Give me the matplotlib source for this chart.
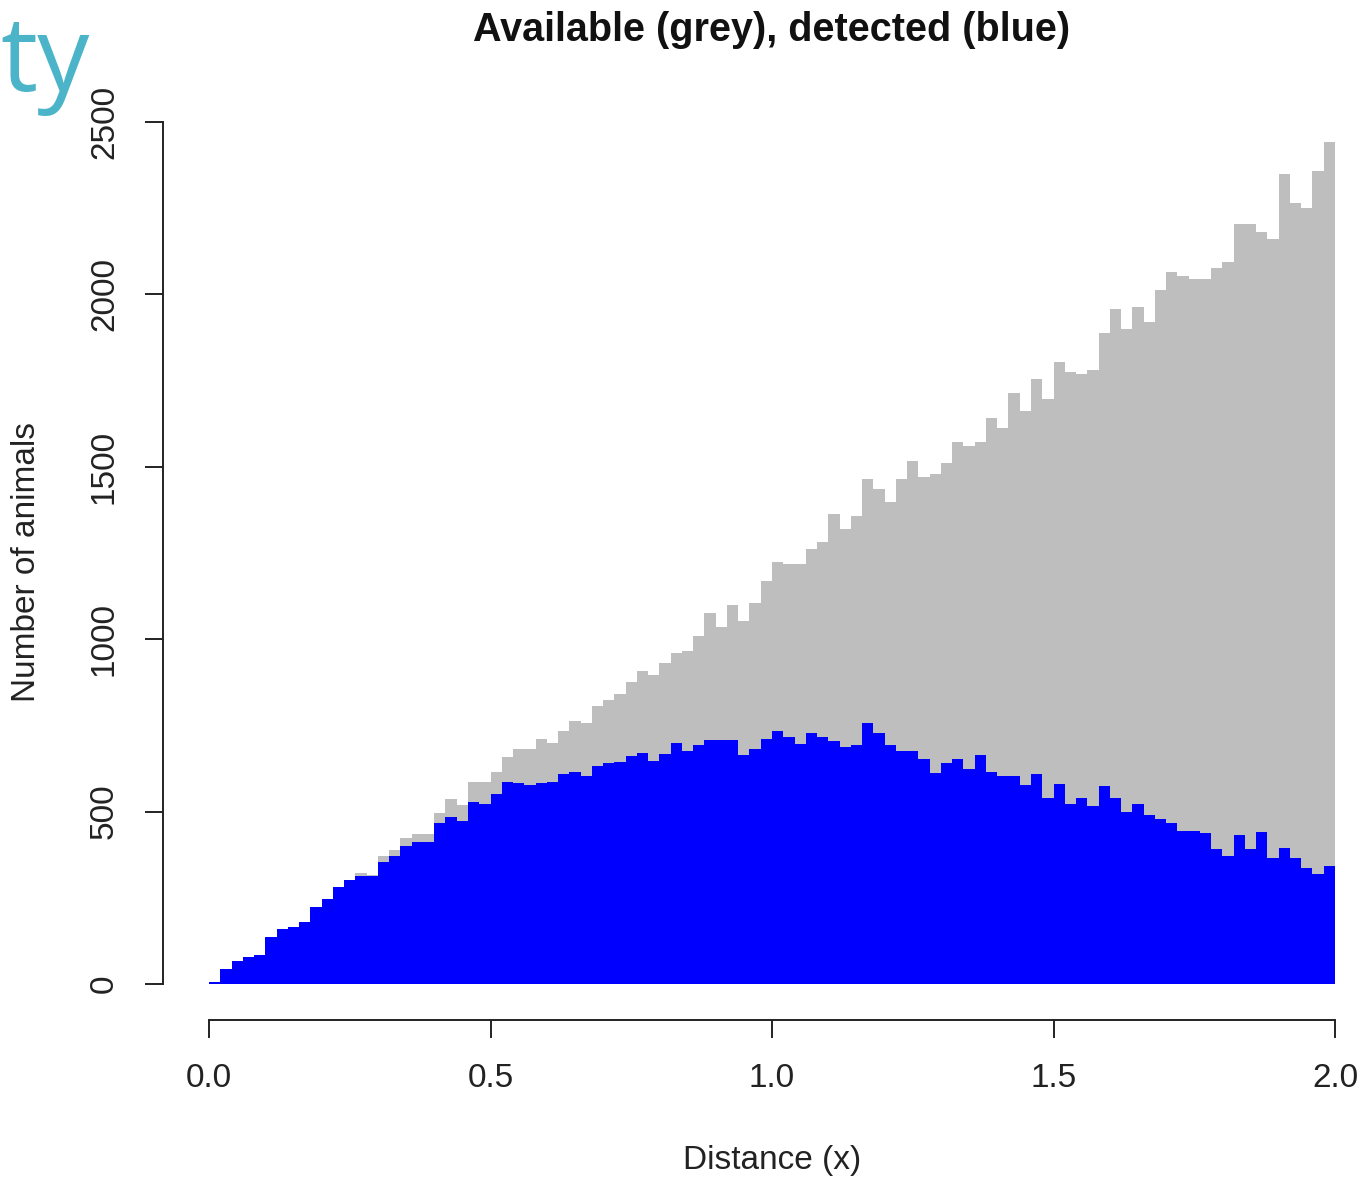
import matplotlib
matplotlib.use("Agg")
import matplotlib.pyplot as plt
import numpy as np

# histogram counts, 100 bins of width 0.02 from 0 to 2
bin_edges = np.linspace(0, 2, 101)

available = [6, 43, 66, 77, 84, 137, 160, 166, 180, 224,
             247, 282, 302, 323, 316, 371, 389, 424, 435, 435,
             497, 537, 519, 585, 585, 616, 657, 681, 681, 710,
             698, 735, 763, 756, 806, 824, 841, 877, 908, 896,
             932, 961, 967, 1009, 1075, 1036, 1099, 1053, 1106, 1170,
             1225, 1218, 1218, 1261, 1283, 1362, 1321, 1357, 1464, 1435,
             1399, 1464, 1517, 1469, 1479, 1512, 1571, 1560, 1571, 1642,
             1613, 1715, 1662, 1756, 1698, 1803, 1774, 1769, 1781, 1887,
             1958, 1901, 1964, 1919, 2013, 2066, 2053, 2044, 2044, 2078,
             2095, 2203, 2203, 2180, 2162, 2348, 2264, 2252, 2359, 2443]

detected = [6, 43, 66, 77, 84, 137, 160, 166, 180, 224,
            247, 282, 302, 313, 313, 355, 371, 400, 413, 413,
            466, 483, 473, 527, 522, 550, 585, 583, 577, 584,
            587, 608, 615, 603, 632, 640, 645, 661, 669, 646,
            667, 698, 677, 693, 708, 708, 708, 664, 681, 712,
            735, 717, 695, 729, 717, 706, 688, 693, 758, 729,
            693, 677, 677, 653, 611, 640, 652, 623, 663, 616,
            604, 604, 577, 609, 540, 580, 522, 538, 516, 574,
            538, 498, 521, 490, 478, 466, 444, 444, 437, 391,
            371, 432, 391, 442, 366, 395, 366, 335, 319, 342]

x_ticks = [0.0, 0.5, 1.0, 1.5, 2.0]
x_labels = ["0.0", "0.5", "1.0", "1.5", "2.0"]
y_ticks = [0, 500, 1000, 1500, 2000, 2500]

plt.rcParams['font.family'] = ['Liberation Sans', 'DejaVu Sans']

W, H = 1361, 1178
fig = plt.figure(figsize=(W / 100, H / 100), dpi=100)
ax = fig.add_axes([209 / W, (H - 984) / H, 1126 / W, 862 / H])

width = bin_edges[1] - bin_edges[0]
ax.bar(bin_edges[:-1], available, width=width, align='edge', color='#bebebe', linewidth=0)
ax.bar(bin_edges[:-1], detected, width=width, align='edge', color='#0000ff', linewidth=0)

ax.set_xlim(0, 2)
ax.set_ylim(0, 2500)

# R style detached axes
for s in ['top', 'right']:
    ax.spines[s].set_visible(False)
ax.spines['left'].set_position(('outward', 46 * 72 / 100))
ax.spines['bottom'].set_position(('outward', 36 * 72 / 100))
ax.spines['left'].set_bounds(0, 2500)
ax.spines['bottom'].set_bounds(0, 2)
for s in ['left', 'bottom']:
    ax.spines[s].set_linewidth(1.4)
    ax.spines[s].set_color('#222222')

ax.set_xticks(x_ticks)
ax.set_xticklabels(x_labels)
ax.set_yticks(y_ticks)
ax.set_yticklabels([str(v) for v in y_ticks], rotation=90, va='center')
ax.tick_params(axis='both', length=13, width=1.4, color='#222222',
               labelsize=24, labelcolor='#222222')
ax.tick_params(axis='x', pad=18)
ax.tick_params(axis='y', pad=18)

fig.text(772 / W, 1 - 30 / H, "Available (grey), detected (blue)", ha='center', va='center',
         fontsize=28.5, fontweight='bold', color='#111111')
fig.text(772 / W, 1 - 1160 / H, "Distance (x)", ha='center', va='center',
         fontsize=24, color='#222222')
fig.text(27 / W, 1 - 562 / H, "Number of animals", ha='center', va='center',
         rotation=90, fontsize=24, color='#222222')

# watermark text in the corner
fig.text(0.0, 1 - 64 / H, "ty", ha='left', va='center', fontsize=75,
         color='#4bb4c8', family=['Open Sans', 'DejaVu Sans'])

fig.savefig("out.png", dpi=100)
